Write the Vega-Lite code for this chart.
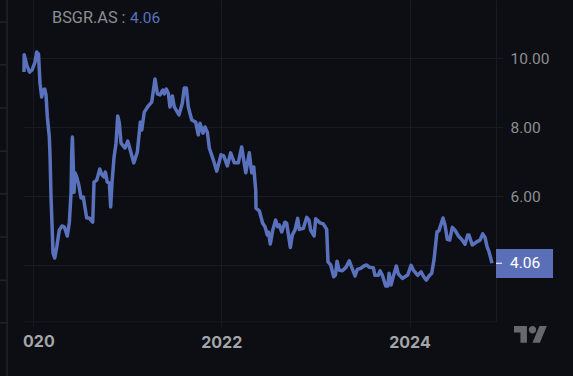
{"$schema":"https://vega.github.io/schema/vega-lite/v6.json","width":472,"height":321.3,"autosize":{"type":"none"},"padding":{"left":24,"right":77,"top":0,"bottom":54.7},"background":"#0c0e13","config":{"view":{"stroke":null}},
"datasets":{"price":[[2019.904,9.6],[2019.906,10.1],[2019.936,9.78],[2019.963,9.6],[2019.989,9.66],[2020.021,9.89],[2020.039,10.18],[2020.058,10.12],[2020.074,9.28],[2020.092,8.88],[2020.109,9.08],[2020.124,9.11],[2020.138,8.94],[2020.152,8.3],[2020.173,7.72],[2020.181,7.14],[2020.191,5.98],[2020.205,4.94],[2020.212,4.36],[2020.231,4.21],[2020.252,4.53],[2020.279,5.02],[2020.308,5.14],[2020.333,5.11],[2020.364,4.85],[2020.386,5.25],[2020.404,6.1],[2020.411,7.26],[2020.418,7.72],[2020.428,6.85],[2020.436,6.12],[2020.446,6.68],[2020.464,6.56],[2020.486,6.33],[2020.51,5.95],[2020.534,5.98],[2020.57,5.37],[2020.598,5.37],[2020.634,5.25],[2020.648,6.41],[2020.677,6.47],[2020.709,6.79],[2020.733,6.62],[2020.754,6.56],[2020.768,6.7],[2020.789,6.41],[2020.811,6.39],[2020.825,5.69],[2020.839,6.39],[2020.861,7.14],[2020.882,7.54],[2020.9,8.33],[2020.917,8.12],[2020.935,7.54],[2020.967,7.43],[2020.977,7.4],[2021.006,7.6],[2021.027,7.4],[2021.07,6.97],[2021.108,7.28],[2021.14,8.15],[2021.155,7.92],[2021.182,8.44],[2021.225,8.62],[2021.261,8.73],[2021.296,9.4],[2021.321,8.97],[2021.349,8.94],[2021.378,9.08],[2021.395,8.97],[2021.416,9.11],[2021.437,8.99],[2021.455,8.59],[2021.48,8.91],[2021.501,8.59],[2021.551,8.36],[2021.586,8.7],[2021.607,9.14],[2021.629,9.14],[2021.65,8.59],[2021.686,8.21],[2021.728,8.15],[2021.756,7.78],[2021.774,8.12],[2021.806,7.83],[2021.827,8.01],[2021.852,7.86],[2021.873,7.4],[2021.916,7.05],[2021.952,6.73],[2021.997,7.2],[2022.026,7.17],[2022.064,6.88],[2022.1,7.26],[2022.139,6.97],[2022.181,6.97],[2022.217,7.43],[2022.26,6.68],[2022.298,7.26],[2022.323,6.68],[2022.345,6.85],[2022.366,6.18],[2022.369,5.66],[2022.404,5.58],[2022.44,5.22],[2022.465,5.12],[2022.489,4.88],[2022.502,4.96],[2022.521,4.62],[2022.547,5.02],[2022.578,5.31],[2022.6,5.12],[2022.616,5.17],[2022.642,4.97],[2022.677,5.25],[2022.695,5.22],[2022.734,4.52],[2022.755,4.88],[2022.783,5.02],[2022.812,5.36],[2022.829,5.04],[2022.872,5.07],[2022.908,5.39],[2022.932,5.31],[2022.95,5.02],[2022.986,4.85],[2023.003,5.35],[2023.049,5.23],[2023.084,5.2],[2023.12,5.04],[2023.134,4.1],[2023.163,4.01],[2023.195,3.67],[2023.213,3.72],[2023.23,4.12],[2023.251,3.86],[2023.286,3.84],[2023.325,3.94],[2023.36,4.13],[2023.421,3.69],[2023.445,3.88],[2023.481,3.91],[2023.516,3.98],[2023.545,4.01],[2023.575,3.94],[2023.615,3.93],[2023.633,3.71],[2023.669,3.71],[2023.687,3.84],[2023.711,3.72],[2023.747,3.4],[2023.769,3.4],[2023.783,3.77],[2023.804,3.43],[2023.825,3.65],[2023.86,3.98],[2023.881,3.75],[2023.924,3.62],[2023.952,3.67],[2023.981,3.72],[2024.016,4.0],[2024.041,3.86],[2024.087,3.71],[2024.122,3.81],[2024.151,3.67],[2024.179,3.57],[2024.207,3.69],[2024.236,3.77],[2024.26,4.15],[2024.292,4.97],[2024.313,5.0],[2024.356,5.37],[2024.377,5.17],[2024.402,4.75],[2024.427,4.73],[2024.455,5.1],[2024.483,5.02],[2024.519,4.85],[2024.555,4.75],[2024.59,4.61],[2024.618,4.88],[2024.632,4.88],[2024.667,4.59],[2024.714,4.68],[2024.749,4.73],[2024.778,4.91],[2024.802,4.81],[2024.824,4.54],[2024.845,4.39],[2024.873,4.1],[2024.876,4.06]]},
"layer":[
{"data":{"values":[{"x":2019.724,"y":11.69,"y2":0.79}]},"mark":{"type":"rule","color":"#2b2e34","strokeWidth":1,"clip":false},"encoding":{"x":{"field":"x","type":"quantitative","scale":{"domain":[2019.904,2024.919],"nice":false,"zero":false},"axis":{"values":[2020,2022,2024],"title":null,"grid":true,"gridColor":"#181b21","gridWidth":1,"domain":true,"domainColor":"#181b21","ticks":true,"tickColor":"#181b21","tickSize":5,"labelFontSize":16,"labelFont":"Inter","labelFontWeight":700,"labelColor":"#a3a5a8","labelPadding":8,"labelExpr":"datum.value==2020?'':format(datum.value,'d')","labelOverlap":false,"labelFlush":false,"labelBound":false}},"y":{"field":"y","type":"quantitative","scale":{"domain":[2.377,11.69],"nice":false,"zero":false},"axis":{"orient":"right","values":[4,6,8,10],"title":null,"labelExpr":"datum.value==4?'':format(datum.value,'.2f')","grid":true,"gridColor":"#181b21","gridWidth":1,"domain":true,"domainColor":"#181b21","ticks":true,"tickColor":"#181b21","tickSize":7,"labelFontSize":15.5,"labelFont":"Roboto","labelColor":"#8c8e92","labelPadding":7,"labelOverlap":false,"labelFlush":false,"labelBound":false}},"y2":{"field":"y2"}}},
{"data":{"values":[{"x":2019.649,"x2":2019.724,"y":11.05},{"x":2019.649,"x2":2019.724,"y":9.81},{"x":2019.649,"x2":2019.724,"y":8.56},{"x":2019.649,"x2":2019.724,"y":7.31},{"x":2019.649,"x2":2019.724,"y":6.07},{"x":2019.649,"x2":2019.724,"y":4.82},{"x":2019.649,"x2":2019.724,"y":3.57},{"x":2019.649,"x2":2019.724,"y":2.33}]},"mark":{"type":"rule","color":"#2b2e34","strokeWidth":1,"clip":false},"encoding":{"x":{"field":"x","type":"quantitative"},"x2":{"field":"x2"},"y":{"field":"y","type":"quantitative"}}},
{"data":{"name":"price"},"transform":[{"calculate":"datum[0]","as":"year"},{"calculate":"datum[1]","as":"close"}],"mark":{"type":"line","color":"#5a72bd","strokeWidth":3.5,"strokeJoin":"round","strokeCap":"butt","clip":false},"encoding":{"x":{"field":"year","type":"quantitative"},"y":{"field":"close","type":"quantitative"}}},
{"data":{"values":[{"x":2024.919,"x2":2025.525,"y":4.472,"y2":3.631}]},"mark":{"type":"rect","color":"#5b6fb8","clip":false},"encoding":{"x":{"field":"x","type":"quantitative"},"x2":{"field":"x2"},"y":{"field":"y","type":"quantitative"},"y2":{"field":"y2"}}},
{"data":{"values":[{"x":2024.919,"x2":2024.983,"y":4.06}]},"mark":{"type":"rule","color":"#ffffff","strokeWidth":1,"clip":false},"encoding":{"x":{"field":"x","type":"quantitative"},"x2":{"field":"x2"},"y":{"field":"y","type":"quantitative"}}},
{"data":{"values":[{"x":2025.068,"y":4.06,"t":"4.06","c":"#ffffff"},{"x":2021.03,"y":11.17,"t":"4.06","c":"#5a72bd"}]},"mark":{"type":"text","align":"left","baseline":"middle","font":"Roboto","fontSize":15.5,"clip":false},"encoding":{"x":{"field":"x","type":"quantitative"},"y":{"field":"y","type":"quantitative"},"text":{"field":"t"},"color":{"field":"c","type":"nominal","scale":null,"legend":null}}},
{"data":{"values":[{"x":2020.202,"y":11.17,"t":"BSGR.AS :","c":"#8c8e92"}]},"mark":{"type":"text","align":"left","baseline":"middle","font":"Roboto","fontSize":16.3,"clip":false},"encoding":{"x":{"field":"x","type":"quantitative"},"y":{"field":"y","type":"quantitative"},"text":{"field":"t"},"color":{"field":"c","type":"nominal","scale":null,"legend":null}}},
{"data":{"values":[{"x":2019.894,"y":1.777,"t":"020"}]},"mark":{"type":"text","align":"left","baseline":"middle","font":"Inter","fontSize":16,"fontWeight":700,"color":"#a3a5a8","clip":false},"encoding":{"x":{"field":"x","type":"quantitative"},"y":{"field":"y","type":"quantitative"},"text":{"field":"t"}}},
{"data":{"values":[{"x":2025.287,"y":2.0}]},"mark":{"type":"point","filled":true,"opacity":1,"size":3.42,"color":"#66686b","strokeWidth":0,"clip":false,"shape":"M-4 9H-11V-2H-18V-9H-4ZM10 9H2L9.5 -9H17.5ZM-2 -5A4 4 0 1 0 6 -5A4 4 0 1 0 -2 -5Z"},"encoding":{"x":{"field":"x","type":"quantitative"},"y":{"field":"y","type":"quantitative"}}}
]}
